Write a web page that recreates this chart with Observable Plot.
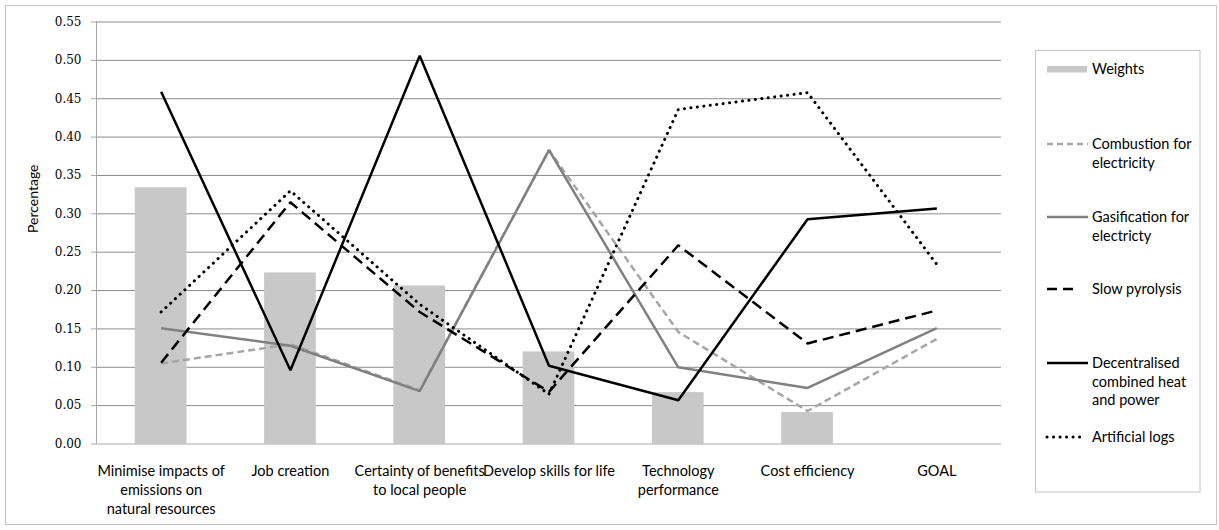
<!DOCTYPE html>
<html>
<head>
<meta charset="utf-8">
<script src="https://cdn.jsdelivr.net/npm/d3@7"></script>
<script src="https://cdn.jsdelivr.net/npm/@observablehq/plot@0.6"></script>
<style>
  html, body { margin: 0; padding: 0; background: #fff; }
  #chart { width: 1219px; height: 530px; }
</style>
</head>
<body>
<div id="chart"></div>
<script>
// ---- Data ----
const categories = [
  "Minimise impacts of emissions on natural resources",
  "Job creation",
  "Certainty of benefits to local people",
  "Develop skills for life",
  "Technology performance",
  "Cost efficiency",
  "GOAL"
];
const categoryLabels = [
  "Minimise impacts of\nemissions on\nnatural resources",
  "Job creation",
  "Certainty of benefits\nto local people",
  "Develop skills for life",
  "Technology\nperformance",
  "Cost efficiency",
  "GOAL"
];
const weights = [0.334, 0.223, 0.206, 0.120, 0.067, 0.041, null];
const combustion = [0.105, 0.130, 0.070, 0.383, 0.146, 0.043, 0.137];
const gasification = [0.151, 0.128, 0.069, 0.383, 0.100, 0.073, 0.151];
const slowPyrolysis = [0.106, 0.315, 0.172, 0.068, 0.259, 0.131, 0.174];
const decentralised = [0.459, 0.096, 0.506, 0.102, 0.057, 0.293, 0.307];
const artificialLogs = [0.172, 0.330, 0.182, 0.065, 0.436, 0.458, 0.234];
const seriesNames = [
  "Combustion for electricity",
  "Gasification for electricty",
  "Slow pyrolysis",
  "Decentralised combined heat and power",
  "Artificial logs"
];
const seriesValues = [combustion, gasification, slowPyrolysis, decentralised, artificialLogs];
const legendLabels = [
  "Combustion for\nelectricity",
  "Gasification for\nelectricty",
  "Slow pyrolysis",
  "Decentralised\ncombined heat\nand power",
  "Artificial logs"
];
const yTicks = [0, 0.05, 0.10, 0.15, 0.20, 0.25, 0.30, 0.35, 0.40, 0.45, 0.50, 0.55];

// ---- Tables built from the arrays ----
const barData = categories.map((c, i) => ({category: c, value: weights[i]})).filter(d => d.value != null);
const lineData = seriesNames.map((s, k) =>
  categories.map((c, i) => ({series: s, category: c, value: seriesValues[k][i]})));

// ---- Styles ----
const styles = [
  {stroke: "#a6a6a6", strokeWidth: 2.5, strokeDasharray: "7,4", strokeLinecap: "butt", strokeLinejoin: "miter"},
  {stroke: "#808080", strokeWidth: 2.5, strokeDasharray: null, strokeLinecap: "butt", strokeLinejoin: "miter"},
  {stroke: "#000000", strokeWidth: 2.5, strokeDasharray: "11,6", strokeLinecap: "butt", strokeLinejoin: "miter"},
  {stroke: "#000000", strokeWidth: 2.5, strokeDasharray: null, strokeLinecap: "butt", strokeLinejoin: "miter"},
  {stroke: "#000000", strokeWidth: 3, strokeDasharray: "0.1,6.4", strokeLinecap: "round", strokeLinejoin: "round"}
];
const labelFont = "Lato, 'Open Sans', 'Liberation Sans', sans-serif";

const marginLeft = 96, marginRight = 218, marginTop = 21.5, marginBottom = 86.5;

const plot = Plot.plot({
  width: 1219,
  height: 530,
  marginLeft, marginRight, marginTop, marginBottom,
  style: {fontFamily: labelFont, background: "transparent", overflow: "visible"},
  x: {domain: categories, paddingInner: 0.6, paddingOuter: 0.3, round: false, axis: null},
  y: {domain: [0, 0.55], axis: null},
  marks: [
    Plot.ruleY(yTicks.filter(d => d > 0), {stroke: "#8c8c8c", strokeWidth: 1}),
    Plot.barY(barData, {x: "category", y: "value", fill: "#c8c8c8"}),
    Plot.ruleY([0], {stroke: "#a8a8a8", strokeWidth: 1}),
    Plot.axisY({
      ticks: yTicks, tickSize: 5, tickPadding: 10, tickFormat: d3.format(".2f"),
      fontFamily: "'DejaVu Serif', 'Liberation Serif', serif", fontSize: 12,
      stroke: "#a8a8a8", label: null
    }),
    Plot.text(["Percentage"], {
      frameAnchor: "left", text: d => d, rotate: -90, dx: -63,
      fontSize: 14, fontFamily: labelFont, fill: "#000"
    }),
    Plot.text(categories, {
      x: d => d, text: (d, i) => categoryLabels[i],
      frameAnchor: "bottom", lineAnchor: "top", dy: 18, lineHeight: 1.33,
      fontSize: 14.5, fontFamily: labelFont, fill: "#000"
    }),
    ...lineData.map((data, k) => Plot.line(data, {
      x: "category", y: "value",
      stroke: styles[k].stroke, strokeWidth: styles[k].strokeWidth,
      strokeDasharray: styles[k].strokeDasharray,
      strokeLinecap: styles[k].strokeLinecap, strokeLinejoin: styles[k].strokeLinejoin
    }))
  ]
});

// ---- Decorations: chart border, left axis line, legend ----
const svg = d3.select(plot);
svg.insert("rect", ":first-child")
  .attr("x", 5.5).attr("y", 5.5).attr("width", 1211).attr("height", 519)
  .attr("fill", "#fff").attr("stroke", "#c4c4c4");
svg.append("line")
  .attr("x1", marginLeft + 0.5).attr("x2", marginLeft + 0.5)
  .attr("y1", marginTop).attr("y2", 530 - marginBottom)
  .attr("stroke", "#a8a8a8");

const lg = svg.append("g")
  .attr("font-family", labelFont).attr("font-size", 14.5)
  .attr("text-anchor", "start").attr("fill", "#000");
lg.append("rect").attr("x", 1035.5).attr("y", 50.5).attr("width", 164.5).attr("height", 441.5)
  .attr("fill", "#fff").attr("stroke", "#c4c4c4");
// Weights entry
lg.append("rect").attr("x", 1047).attr("y", 66).attr("width", 40).attr("height", 6.5).attr("fill", "#c8c8c8");
lg.append("text").attr("x", 1092).attr("y", 69).attr("dy", "0.35em").attr("text-anchor", "start").text("Weights");
const legendY = [144, 217, 289, 363, 437];
const legendSampleEnd = [1088, 1088, 1074, 1088, 1084];
seriesNames.forEach((s, k) => {
  const st = styles[k];
  lg.append("line").attr("x1", 1047).attr("x2", legendSampleEnd[k])
    .attr("y1", legendY[k]).attr("y2", legendY[k])
    .attr("stroke", st.stroke).attr("stroke-width", st.strokeWidth)
    .attr("stroke-dasharray", k === 2 ? "10,6" : (k === 0 ? "6,4" : st.strokeDasharray))
    .attr("stroke-linecap", st.strokeLinecap);
  const t = lg.append("text").attr("x", 1092).attr("y", legendY[k]).attr("text-anchor", "start");
  legendLabels[k].split("\n").forEach((line, j) => {
    t.append("tspan").attr("x", 1092).attr("dy", j === 0 ? "0.35em" : "18.5px").text(line);
  });
});

document.getElementById("chart").appendChild(plot);
</script>
</body>
</html>
